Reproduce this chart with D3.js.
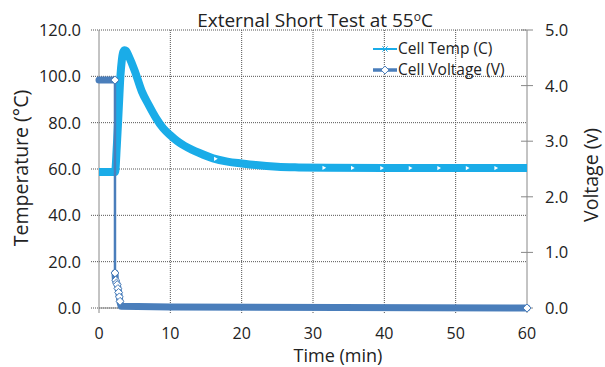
<!DOCTYPE html>
<html>
<head>
  <meta charset="utf-8">
  <script src="https://d3js.org/d3.v7.min.js"></script>
  <style>
    body { margin: 0; background: #fff; }
    svg { display: block; font-family: "Open Sans", Lato, sans-serif; }
  </style>
</head>
<body>
  <svg id="chart" width="605" height="367"></svg>
  <script>
    // 数据：从图中读取
    var tempTime = [0, 2.25, 2.5, 2.8, 3.0, 3.2, 3.4, 3.6, 3.8, 4.2, 5, 6, 7, 8, 9, 10, 11, 12, 13, 14, 16, 18, 20, 22, 25, 28, 32, 40, 50, 60];
    var tempValue = [58.7, 58.7, 70, 88, 100, 107, 110.5, 111.3, 111, 108.5, 102.5, 93.5, 87.5, 82, 77.6, 74.6, 72, 70, 68.4, 67, 64.6, 63.2, 62.4, 61.7, 61, 60.7, 60.5, 60.4, 60.4, 60.4];
    var tempMarkTime = [16.3, 31.5, 35.5, 39.6, 43.6, 47.6, 51.6, 55.6];

    var voltTime = [0, 2.24, 2.24, 2.3, 2.45, 2.6, 2.8, 2.95, 3.1, 10, 60];
    var voltValue = [4.1, 4.1, 0.63, 0.5, 0.45, 0.4, 0.25, 0.1, 0.03, 0.02, 0.0];
    var voltMarkTime = [2.24, 2.24, 2.35, 2.45, 2.55, 2.65, 2.75, 2.85, 2.95, 60];
    var voltMarkValue = [4.1, 0.63, 0.5, 0.45, 0.42, 0.35, 0.28, 0.2, 0.12, 0.0];

    var xTicks = [0, 10, 20, 30, 40, 50, 60];
    var tempTicks = [0, 20, 40, 60, 80, 100, 120];
    var voltTicks = [0, 1, 2, 3, 4, 5];

    var seriesNames = ["Cell Temp (C)", "Cell Voltage (V)"];
    var tempColor = "#1aace8";
    var voltColor = "#4a7ebb";

    var pLeft = 99, pRight = 527, pTop = 30, pBottom = 308;
    var svg = d3.select("#chart");

    var x = d3.scaleLinear().domain([0, 60]).range([pLeft, pRight]);
    var yT = d3.scaleLinear().domain([0, 120]).range([pBottom, pTop]);
    var yV = d3.scaleLinear().domain([0, 5]).range([pBottom, pTop]);

    // 网格线
    svg.append("g").selectAll("line").data(tempTicks).enter().append("line")
      .attr("x1", pLeft - 8).attr("x2", pRight)
      .attr("y1", d => yT(d)).attr("y2", d => yT(d))
      .attr("stroke", "#555").attr("stroke-width", 1).attr("stroke-dasharray", "1,1");
    svg.append("g").selectAll("line").data(xTicks.slice(1, -1)).enter().append("line")
      .attr("x1", d => x(d)).attr("x2", d => x(d))
      .attr("y1", pTop).attr("y2", pBottom + 5)
      .attr("stroke", "#555").attr("stroke-width", 1).attr("stroke-dasharray", "1,1");

    // 坐标轴
    svg.append("line").attr("x1", pLeft).attr("x2", pLeft).attr("y1", pTop).attr("y2", pBottom + 5)
      .attr("stroke", "#888");
    svg.append("line").attr("x1", pRight).attr("x2", pRight).attr("y1", pTop).attr("y2", pBottom + 5)
      .attr("stroke", "#888");
    svg.append("line").attr("x1", pLeft).attr("x2", pRight).attr("y1", pBottom).attr("y2", pBottom)
      .attr("stroke", "#888");
    svg.append("g").selectAll("line").data(voltTicks).enter().append("line")
      .attr("x1", pRight - 6).attr("x2", pRight + 6)
      .attr("y1", d => yV(d)).attr("y2", d => yV(d))
      .attr("stroke", "#888");

    // 刻度标签
    svg.append("g").selectAll("text").data(tempTicks).enter().append("text")
      .attr("x", 81).attr("y", d => yT(d)).attr("dy", "0.36em")
      .attr("text-anchor", "end").attr("font-size", 16.5).attr("fill", "#222")
      .text(d => d.toFixed(1));
    svg.append("g").selectAll("text").data(voltTicks).enter().append("text")
      .attr("x", 545).attr("y", d => yV(d)).attr("dy", "0.36em")
      .attr("font-size", 16.5).attr("fill", "#222")
      .text(d => d.toFixed(1));
    svg.append("g").selectAll("text").data(xTicks).enter().append("text")
      .attr("x", d => x(d)).attr("y", 339)
      .attr("text-anchor", "middle").attr("font-size", 16).attr("fill", "#222")
      .text(d => d);

    // 标题
    svg.append("text").attr("x", 315).attr("y", 27).attr("text-anchor", "middle")
      .attr("font-size", 19).attr("fill", "#222")
      .html("External Short Test at 55<tspan dy='-6' font-size='12'>o</tspan><tspan dy='6'>C</tspan>");
    svg.append("text").attr("x", 338).attr("y", 362).attr("text-anchor", "middle")
      .attr("font-size", 18).attr("fill", "#222").text("Time (min)");
    svg.append("text").attr("transform", "translate(28,168) rotate(-90)")
      .attr("text-anchor", "middle").attr("font-size", 19.5).attr("fill", "#222")
      .text("Temperature (°C)");
    svg.append("text").attr("transform", "translate(598,175) rotate(-90)")
      .attr("text-anchor", "middle").attr("font-size", 19.5).attr("fill", "#222")
      .text("Voltage (v)");

    // 温度曲线
    var tempData = tempTime.map((t, i) => [t, tempValue[i]]);
    var tempLine = d3.line().x(d => x(d[0])).y(d => yT(d[1])).curve(d3.curveMonotoneX);
    svg.append("path").datum(tempData)
      .attr("d", tempLine).attr("fill", "none")
      .attr("stroke", tempColor).attr("stroke-width", 8).attr("stroke-linejoin", "round");

    // 温度标记（白色小三角）
    var tempAt = d3.scaleLinear().domain(tempTime).range(tempValue);
    svg.append("g").selectAll("path").data(tempMarkTime).enter().append("path")
      .attr("d", d3.symbol().type(d3.symbolTriangle).size(8))
      .attr("transform", d => "translate(" + x(d) + "," + yT(tempAt(d)) + ") rotate(90)")
      .attr("fill", "#fff");

    // 电压曲线：水平段粗，骤降段细
    var voltData = voltTime.map((t, i) => [t, voltValue[i]]);
    var voltLine = d3.line().x(d => x(d[0])).y(d => yV(d[1]));
    [voltData.slice(0, 2), voltData.slice(2)].forEach(function(seg) {
      svg.append("path").datum(seg)
        .attr("d", voltLine).attr("fill", "none")
        .attr("stroke", voltColor).attr("stroke-width", 7)
        .attr("stroke-linejoin", "round").attr("stroke-linecap", "round");
    });
    svg.append("path").datum(voltData.slice(1, 3))
      .attr("d", voltLine).attr("fill", "none")
      .attr("stroke", voltColor).attr("stroke-width", 2.5);

    svg.append("g").selectAll("path").data(voltMarkTime).enter().append("path")
      .attr("d", d3.symbol().type(d3.symbolDiamond2).size(40))
      .attr("transform", (d, i) => "translate(" + x(d) + "," + yV(voltMarkValue[i]) + ")")
      .attr("fill", "#fff").attr("stroke", voltColor).attr("stroke-width", 1);

    // 图例
    var lg = svg.append("g").attr("transform", "translate(373,49)");
    lg.append("line").attr("x1", 0).attr("x2", 24).attr("y1", 0).attr("y2", 0)
      .attr("stroke", tempColor).attr("stroke-width", 2);
    lg.append("path").attr("d", d3.symbol().type(d3.symbolX).size(20))
      .attr("transform", "translate(12,0)").attr("stroke", tempColor).attr("stroke-width", 1);
    lg.append("text").attr("x", 25).attr("y", 0).attr("dy", "0.35em")
      .attr("font-size", 15.5).attr("fill", "#222").text(seriesNames[0]);
    lg.append("line").attr("x1", 0).attr("x2", 24).attr("y1", 21).attr("y2", 21)
      .attr("stroke", voltColor).attr("stroke-width", 3.5);
    lg.append("path").attr("d", d3.symbol().type(d3.symbolDiamond2).size(40))
      .attr("transform", "translate(12,21)")
      .attr("fill", "#fff").attr("stroke", voltColor).attr("stroke-width", 1);
    lg.append("text").attr("x", 25).attr("y", 21).attr("dy", "0.35em")
      .attr("font-size", 15.5).attr("fill", "#222").text(seriesNames[1]);
  </script>
</body>
</html>
